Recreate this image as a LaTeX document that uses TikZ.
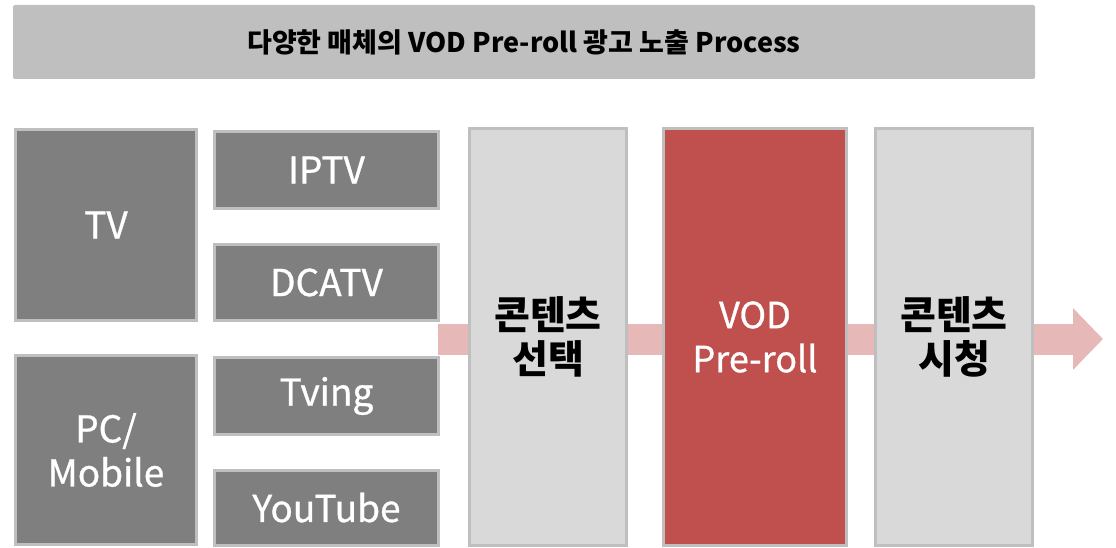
\documentclass[tikz,border=0pt]{standalone}
\usepackage{fontspec}
\setmainfont{Noto Sans CJK KR}
\newfontfamily\medfont[FakeBold=0.8]{Noto Sans CJK KR}
\usetikzlibrary{arrows.meta,positioning}
\definecolor{boxline}{HTML}{BFBFBF}
\definecolor{darkbox}{HTML}{7F7F7F}
\definecolor{lightbox}{HTML}{D9D9D9}
\definecolor{vodred}{HTML}{C0504D}
\definecolor{flowpink}{HTML}{E6B9B8}
\tikzset{every picture/.style={line width=0.75pt}}
\tikzset{
  mediabox/.style={draw=boxline, line width=3pt, fill=darkbox, text=white,
    inner sep=0pt, align=center, font=\fontsize{37}{44}\medfont},
  stagebox/.style={draw=boxline, line width=3pt, fill=lightbox, text=black,
    inner sep=0pt, align=center, minimum height=417pt,
    font=\fontsize{39}{44}\selectfont\bfseries},
}

\begin{document}
\begin{tikzpicture}[x=1pt,y=-1pt]
    \useasboundingbox (0,0) rectangle (1116,548);
    % title bar
    \node[fill=boxline, rounded corners=2pt, minimum width=1022pt, minimum height=74pt,
      font=\fontsize{27}{30}\selectfont\bfseries] (title) at (524,42)
      {다양한 매체의 VOD Pre-roll 광고 노출 Process};
    % flow arrow behind the stages
    \coordinate (flowstart) at (438,339);
    \coordinate (flowend) at (1103,339);
    \draw[flowpink, line width=31pt, -{Triangle[length=30pt,width=60pt]}] (flowstart) -- (flowend);
    % devices
    \node[mediabox, minimum width=181pt, minimum height=191pt] (tv) at (106,225) {TV};
    \node[mediabox, minimum width=181pt, minimum height=189pt] (pc) at (106,450) {PC/\\Mobile};
    % media
    \node[mediabox, minimum width=224pt, minimum height=77pt] (iptv) at (326.5,170) {IPTV};
    \node[mediabox, minimum width=224pt, minimum height=76pt] (dcatv) at (326.5,282.5) {DCATV};
    \node[mediabox, minimum width=224pt, minimum height=77pt] (tving) at (326.5,396) {Tving};
    \node[mediabox, minimum width=224pt, minimum height=75pt] (youtube) at (326.5,507.5) {YouTube};
    % stages
    \node[stagebox, minimum width=157pt] (select) at (548,337) {콘텐츠\\선택};
    \node[stagebox, minimum width=183pt, fill=vodred, text=white,
      font=\fontsize{36}{44}\medfont] (vod) at (755,337) {VOD\\Pre-roll};
    \node[stagebox, minimum width=157pt] (watch) at (954,337) {콘텐츠\\시청};
\end{tikzpicture}
\end{document}
